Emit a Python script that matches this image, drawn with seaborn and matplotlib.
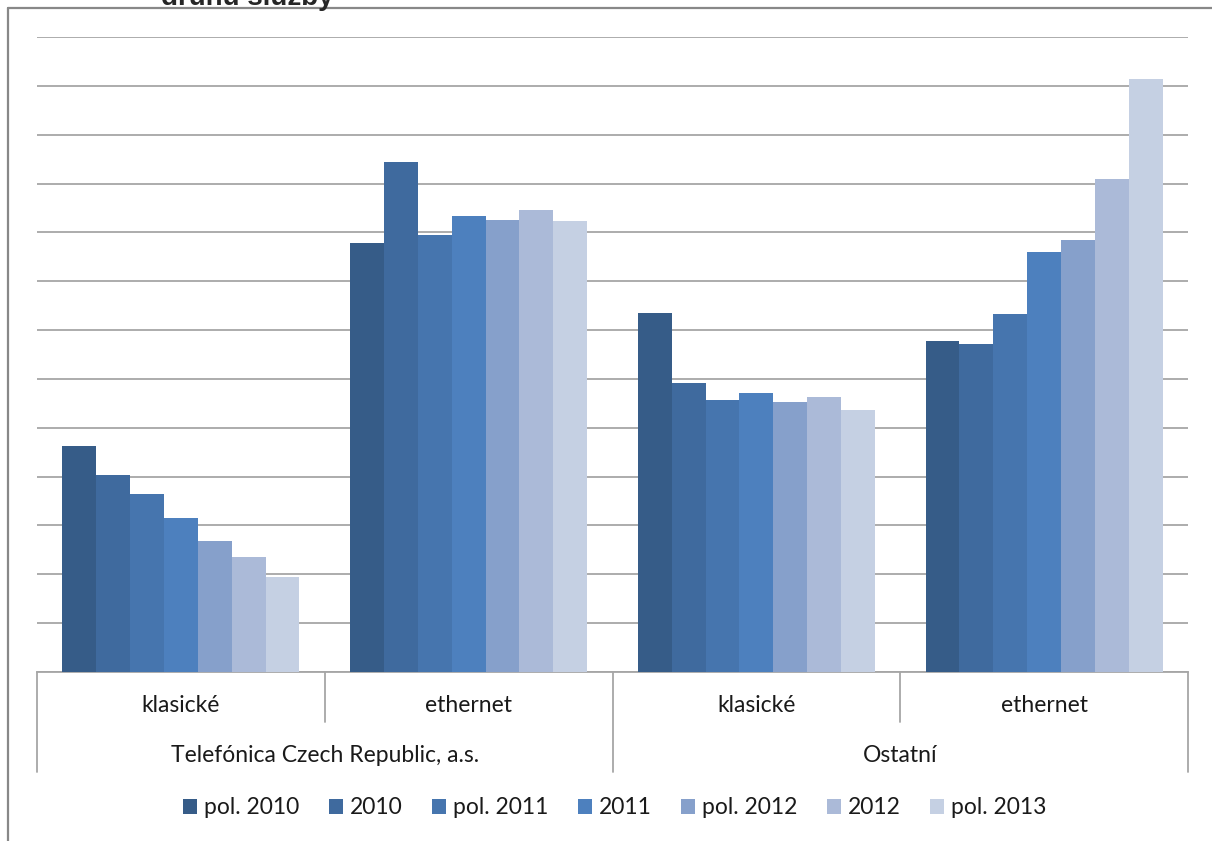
import pandas as pd
import seaborn as sns
from matplotlib import pyplot as plt
from matplotlib.lines import Line2D

# kategorie (operátor / druh služby)
operatori = ['Telefónica Czech Republic, a.s.', 'Ostatní']
sluzby = ['klasické', 'ethernet']
obdobi = ['pol. 2010', '2010', 'pol. 2011', '2011', 'pol. 2012', '2012', 'pol. 2013']

# hodnoty (v jednotkách mřížky, osa bez popisků)
tef_klasicke = [4.63, 4.03, 3.64, 3.15, 2.68, 2.35, 1.94]
tef_ethernet = [8.78, 10.44, 8.95, 9.33, 9.25, 9.46, 9.23]
ost_klasicke = [7.35, 5.92, 5.57, 5.71, 5.53, 5.63, 5.36]
ost_ethernet = [6.78, 6.71, 7.33, 8.60, 8.84, 10.09, 12.14]

barvy = ['#365C88', '#3F6A9E', '#4675AE', '#4D80BE', '#86A0CB', '#ABBAD8', '#C5D0E3']

skupiny = ['T klasické', 'T ethernet', 'O klasické', 'O ethernet']
rady = [tef_klasicke, tef_ethernet, ost_klasicke, ost_ethernet]
radky = []
for sk, hodnoty in zip(skupiny, rady):
    for ob, h in zip(obdobi, hodnoty):
        radky.append({'skupina': sk, 'obdobi': ob, 'hodnota': h})
df = pd.DataFrame(radky)

sns.set_style('white')
plt.rcParams['font.family'] = ['Lato', 'DejaVu Sans']

fig = plt.figure(figsize=(12.12, 8.41), dpi=100)
ax = fig.add_axes([37 / 1212, 1 - 672 / 841, 1151 / 1212, 635 / 841])

sns.barplot(data=df, x='skupina', y='hodnota', hue='obdobi', order=skupiny,
            hue_order=obdobi, palette=barvy, saturation=1, width=0.824, gap=0,
            edgecolor='none', linewidth=0, ax=ax, zorder=3)

ax.set_xlim(-0.5, 3.5)
ax.set_ylim(0, 13)
ax.set_yticks(range(0, 14))
ax.yaxis.grid(True, color='#A6A6A6', linewidth=1.3, zorder=0)
ax.set_axisbelow(True)
ax.set_yticklabels([])
ax.set_xticks([])
ax.set_xlabel('')
ax.set_ylabel('')
ax.tick_params(length=0)
for s in ['top', 'right', 'left']:
    ax.spines[s].set_visible(False)
ax.spines['bottom'].set_color('#A6A6A6')
ax.spines['bottom'].set_linewidth(1.3)

# víceúrovňová kategoriální osa
px = 1 / 635
vel = 16.5
for xf, delka in [(0, 100), (0.25, 50), (0.5, 100), (0.75, 50), (1, 100)]:
    ax.add_line(Line2D([xf, xf], [0, -delka * px], transform=ax.transAxes,
                       color='#A6A6A6', linewidth=1.3, clip_on=False))
for i, sk in enumerate(skupiny):
    ax.text((i + 0.5) / 4, -33 * px, sluzby[i % 2], transform=ax.transAxes,
            ha='center', va='center', fontsize=vel, color='#1a1a1a')
for i, op in enumerate(operatori):
    ax.text(0.25 + 0.5 * i, -84 * px, op, transform=ax.transAxes,
            ha='center', va='center', fontsize=vel, color='#1a1a1a')

ax.legend(loc='center', bbox_to_anchor=(0.502, -136 * px), ncol=7, frameon=False,
          fontsize=vel, handlelength=0.6, handleheight=0.6, handletextpad=0.3,
          columnspacing=1.3, labelcolor='#1a1a1a')

# rámeček oblasti grafu (oříznutý) a zbytek nadpisu
fig.add_artist(Line2D([8 / 1212, 8 / 1212], [0, 1 - 8 / 841], color='#888888', linewidth=1.6))
fig.add_artist(Line2D([8 / 1212, 1], [1 - 8 / 841, 1 - 8 / 841], color='#888888', linewidth=1.6))
fig.text(247 / 1212, 1 - 5 / 841, 'druhu služby', ha='center', va='baseline',
         fontsize=20, fontweight='bold', family=['Liberation Sans', 'DejaVu Sans'])

plt.savefig('out.png', dpi=100)
